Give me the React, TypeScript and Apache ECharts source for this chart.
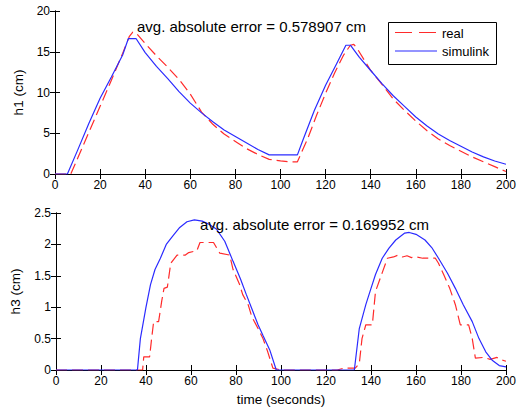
import React, { useEffect, useRef } from "react";
import * as echarts from "echarts";

// h1 (cm) vs time (s)
const h1Real: [number, number][] = [
  [0, 0], [7, 0], [10, 1.9], [15, 5.1], [20, 8.3], [25, 11.5], [30, 14.8], [33, 16.9], [34.5, 17.4], [36, 17.3],
  [40, 16.0], [45, 14.5], [50, 13.1], [55, 11.6], [60, 9.8], [65, 7.6], [70, 6.1], [75, 4.9], [80, 4.0], [85, 3.1],
  [90, 2.4], [95, 1.8], [100, 1.6], [104, 1.5], [107.5, 1.5], [112, 4.3], [116, 7.2], [120, 9.9], [124, 12.4],
  [128, 14.6], [131, 15.8], [132.5, 15.9], [134, 15.4], [140, 12.7], [145, 11.0], [150, 9.2], [155, 7.8], [160, 6.5],
  [165, 5.3], [170, 4.3], [175, 3.5], [180, 2.8], [185, 2.1], [190, 1.5], [195, 0.9], [200, 0.3],
];
const h1Sim: [number, number][] = [
  [0, 0], [5.5, 0], [10, 2.9], [15, 6.2], [20, 9.3], [25, 11.9], [30, 14.6], [32.5, 16.6], [36, 16.6], [40, 14.9],
  [45, 13.2], [50, 11.7], [55, 10.1], [60, 8.7], [65, 7.5], [70, 6.4], [75, 5.4], [80, 4.6], [85, 3.8], [90, 3.0],
  [95, 2.35], [107.5, 2.35], [110, 4.2], [115, 7.8], [120, 10.9], [125, 13.6], [129, 15.8], [131, 15.8], [135, 14.3],
  [140, 12.7], [145, 11.1], [150, 9.6], [155, 8.3], [160, 7.0], [165, 5.9], [170, 4.9], [175, 4.1], [180, 3.4],
  [185, 2.7], [190, 2.1], [195, 1.6], [200, 1.2],
];

// h3 (cm) vs time (s)
const h3Real: [number, number][] = [
  [0, 0], [38.5, 0], [39, 0.21], [41.6, 0.21], [42.5, 0.5], [43.4, 0.77], [45.6, 0.77], [47, 1.1], [48, 1.3],
  [49.5, 1.32], [51, 1.7], [53.8, 1.83], [57.5, 1.83], [59, 1.87], [62.6, 1.9], [64, 2.03], [70, 2.03], [72.8, 1.86],
  [77.2, 1.83], [78.7, 1.6], [81.6, 1.36], [83, 1.2], [85.4, 1.04], [87, 0.85], [89.8, 0.66], [92, 0.5], [94, 0.3],
  [96.4, 0.03], [100, 0], [125, 0], [128, 0.03], [133, 0.03], [134.8, 0.1], [136, 0.5], [137.7, 0.72], [140.6, 0.72],
  [142, 1.25], [145, 1.55], [147.3, 1.78], [150, 1.8], [152, 1.83], [154, 1.8], [156, 1.82], [158, 1.79], [160, 1.8],
  [163, 1.78], [168.6, 1.78], [170, 1.7], [172.3, 1.52], [175, 1.3], [177.5, 1.04], [179.7, 0.72], [183.4, 0.72],
  [185, 0.5], [186.4, 0.19], [190, 0.2], [193, 0.17], [196, 0.2], [198, 0.16], [200, 0.14],
];
const h3Sim: [number, number][] = [
  [0, 0], [36.2, 0], [37.5, 0.5], [40, 1.0], [42, 1.36], [44, 1.6], [46.4, 1.78], [49, 2.0], [52.3, 2.15], [55, 2.27],
  [58.2, 2.36], [61.5, 2.39], [65, 2.37], [68, 2.32], [71.4, 2.24], [75, 2.05], [78.7, 1.73], [82, 1.45], [84.6, 1.2],
  [87, 0.98], [89.8, 0.72], [92, 0.55], [95, 0.32], [97.9, 0], [132.6, 0], [134.8, 0.66], [137.7, 1.04], [140, 1.3],
  [142, 1.52], [145, 1.78], [148, 1.94], [151, 2.07], [155, 2.18], [157, 2.19], [160, 2.16], [164, 2.07], [167, 1.95],
  [170, 1.78], [174, 1.54], [177.5, 1.3], [181, 1.04], [185, 0.77], [188, 0.5], [191, 0.29], [194, 0.15], [197, 0.07],
  [200, 0.05],
];

const seriesNames = ["real", "simulink"];
const annotations = ["avg. absolute error = 0.578907 cm", "avg. absolute error = 0.169952 cm"];
const axisNames = { h1: "h1 (cm)", h3: "h3 (cm)", time: "time (seconds)" };

const FONT = "Liberation Sans, Arial, Helvetica, sans-serif";
const RED = "#ff2b2b";
const BLUE = "#2b2bff";

export default function App() {
  const ref = useRef<HTMLDivElement>(null);
  useEffect(() => {
    if (!ref.current) return;
    const chart = echarts.init(ref.current, undefined, { renderer: "svg" });
    const axisBase = (show: boolean) => ({
      axisLine: { show: true, lineStyle: { color: "#000", width: 1 } },
      axisTick: { show: true, inside: true, length: 5, lineStyle: { color: "#000" } },
      axisLabel: {
        show,
        color: "#000",
        fontSize: 12,
        fontFamily: FONT,
        margin: 5,
        showMinLabel: true,
        showMaxLabel: true,
      },
      splitLine: { show: false },
    });
    const nameStyle = { color: "#000", fontSize: 13.5, fontFamily: FONT };
    const xAx = (grid: number, pos: string, show: boolean, name?: string) => ({
      type: "value",
      gridIndex: grid,
      position: pos,
      min: 0,
      max: 200,
      interval: 20,
      ...axisBase(show),
      name: name || "",
      nameLocation: "middle",
      nameGap: 22,
      nameTextStyle: nameStyle,
    });
    const yAx = (grid: number, pos: string, show: boolean, max: number, interval: number, name?: string, gap?: number) => ({
      type: "value",
      gridIndex: grid,
      position: pos,
      min: 0,
      max,
      interval,
      ...axisBase(show),
      name: name || "",
      nameLocation: "middle",
      nameGap: gap || 30,
      nameTextStyle: nameStyle,
    });
    const lineS = (name: string, data: [number, number][], xi: number, yi: number, dashed: boolean) => ({
      type: "line",
      name,
      data,
      xAxisIndex: xi,
      yAxisIndex: yi,
      showSymbol: false,
      symbol: "none",
      lineStyle: {
        color: dashed ? RED : BLUE,
        width: 1.2,
        type: dashed ? [11, 5] : "solid",
      },
      itemStyle: { color: dashed ? RED : BLUE },
    });
    const txt = (x: number, y: number, text: string, size: number, z = 10) => ({
      type: "text",
      x,
      y,
      z,
      style: { text, fill: "#000", font: `${size}px ${FONT}`, verticalAlign: "middle" },
    });
    chart.setOption({
      animation: false,
      backgroundColor: "#fff",
      grid: [
        { left: 55, right: 11, top: 11, height: 163 },
        { left: 55, right: 11, top: 213, height: 157 },
      ],
      xAxis: [
        xAx(0, "bottom", true),
        xAx(0, "top", false),
        xAx(1, "bottom", true, axisNames.time),
        xAx(1, "top", false),
      ],
      yAxis: [
        yAx(0, "left", true, 20, 5, axisNames.h1, 28),
        yAx(0, "right", false, 20, 5),
        yAx(1, "left", true, 2.5, 0.5, axisNames.h3, 34),
        yAx(1, "right", false, 2.5, 0.5),
      ],
      series: [
        lineS(seriesNames[0], h1Real, 0, 0, true),
        lineS(seriesNames[1], h1Sim, 0, 0, false),
        lineS(seriesNames[0], h3Real, 2, 2, true),
        lineS(seriesNames[1], h3Sim, 2, 2, false),
      ],
      graphic: [
        txt(137, 26, annotations[0], 15),
        txt(200, 224, annotations[1], 15),
        {
          type: "rect",
          z: 10,
          shape: { x: 388.5, y: 22.5, width: 108, height: 42 },
          style: { fill: "#fff", stroke: "#000", lineWidth: 1 },
        },
        {
          type: "line",
          z: 11,
          shape: { x1: 395, y1: 32.5, x2: 437, y2: 32.5 },
          style: { stroke: RED, lineWidth: 1.2, lineDash: [17, 7] },
        },
        {
          type: "line",
          z: 11,
          shape: { x1: 395, y1: 51, x2: 437, y2: 51 },
          style: { stroke: BLUE, lineWidth: 1.2 },
        },
        txt(442, 33, seriesNames[0], 13, 11),
        txt(442, 51.5, seriesNames[1], 13, 11),
      ],
    });
    return () => chart.dispose();
  }, []);
  return <div ref={ref} style={{ width: 519, height: 410, position: "absolute", left: 0, top: 0 }} />;
}
